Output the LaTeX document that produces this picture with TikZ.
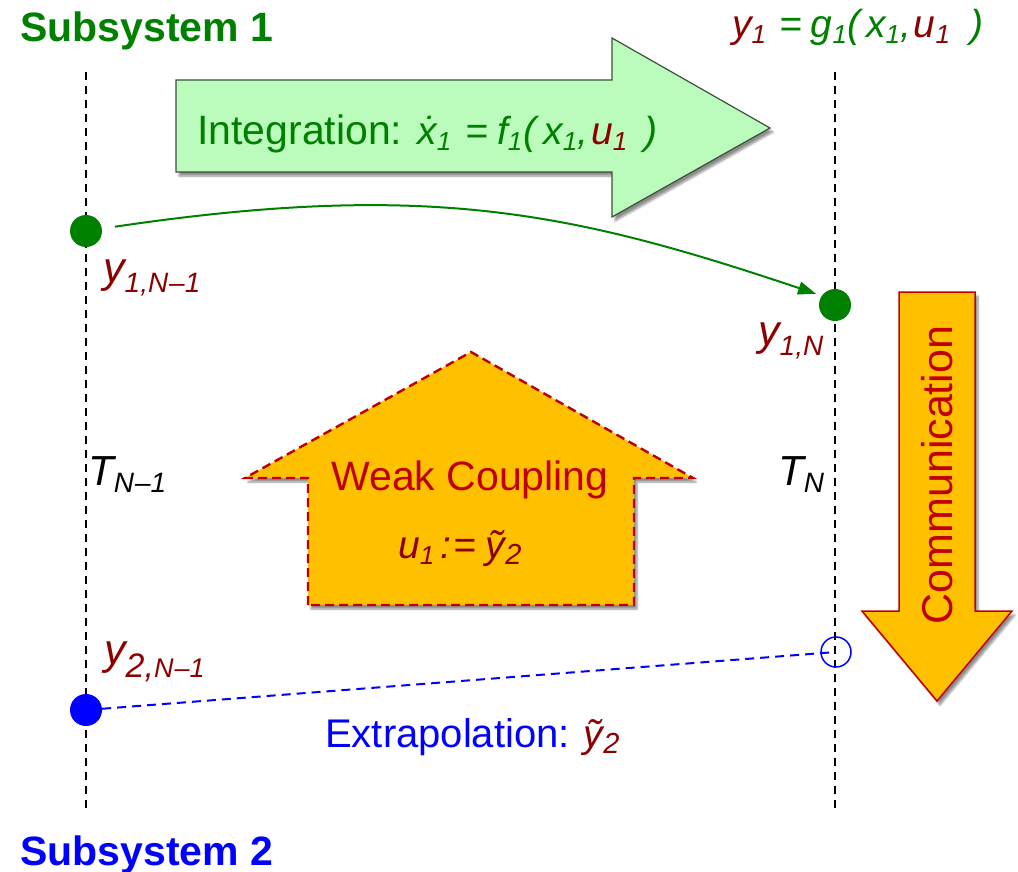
\documentclass[tikz,border=0pt]{standalone}
\usepackage{fontspec}
\setmainfont{Liberation Sans}
\usetikzlibrary{arrows.meta,shadows.blur}
\definecolor{dgreen}{HTML}{008000}
\definecolor{dred}{HTML}{8C0000}
\definecolor{wred}{HTML}{C00000}
\definecolor{lgreen}{HTML}{BBFBBB}
\definecolor{gborder}{HTML}{3C503C}
\definecolor{gold}{HTML}{FFC000}
\definecolor{pblue}{HTML}{0000FF}
\newcommand{\fs}[1]{\fontsize{#1}{#1}\selectfont}
\newcommand{\sbs}[2][26]{\raisebox{-6pt}{\fs{#1}#2}}
\newcommand{\lsb}[3][28]{\raisebox{#2}{\fs{#1}#3}}
\tikzset{
  timeline/.style={black,line width=1.4pt,dash pattern=on 8pt off 6pt},
  dotnode/.style={circle,inner sep=0pt,minimum size=32pt},
  lbl/.style={inner sep=0pt,anchor=base west,text=dred,font=\fs{43}\itshape},
  shad/.style={blur shadow={shadow xshift=3pt,shadow yshift=-4pt,shadow blur steps=6,shadow opacity=45}},
  plain/.style={inner sep=0pt}
}
\begin{document}
\begin{tikzpicture}[x=1pt,y=-1pt]
\useasboundingbox (0,0) rectangle (1018,872);
% time lines
\coordinate (lt) at (86,72);  \coordinate (lb) at (86,810);
\coordinate (rt) at (835,72); \coordinate (rb) at (835,810);
\draw[timeline] (lt) -- (lb);
\draw[timeline] (rt) -- (rb);
% titles
\node[plain,anchor=base west,text=dgreen,font=\fs{41}\bfseries] (s1) at (20,42) {Subsystem 1};
\node[plain,anchor=base west,text=pblue,font=\fs{41}\bfseries] (s2) at (20,865) {Subsystem 2};
% output equation
\node[plain,anchor=base west,font=\fs{39}\itshape] (geq) at (732,38)
  {\textcolor{dred}{y\sbs{1}}\hspace{13pt}\textcolor{dgreen}{=\hspace{9pt}g\sbs{1}(\kern6pt x\sbs{1},}\kern3pt\textcolor{dred}{u\sbs{1}}\kern20pt\textcolor{dgreen}{)}};
% integration arrow
\path[fill=lgreen,draw=gborder,line width=1.2pt,shad]
  (176,80) -- (612,80) -- (612,38) -- (770,128) -- (612,217) -- (612,172) -- (176,172) -- cycle;
\node[plain,anchor=base west,text=dgreen] (integ) at (197,145)
  {{\fs{41}Integration:}\hspace{15pt}{\fs{39}\itshape \.{x}\sbs{1}\hspace{14pt}=\hspace{9pt}f\sbs{1}\kern1pt(\kern7pt x\sbs{1},\kern3pt\textcolor{dred}{u\sbs{1}}\kern17pt)}};
% weak coupling arrow
\path[fill=gold,draw=wred,line width=2.4pt,dash pattern=on 9pt off 5pt,shad]
  (308,605) -- (308,478) -- (245,478) -- (471,352) -- (693,478) -- (634,478) -- (634,605) -- cycle;
\node[plain,anchor=base,text=wred,font=\fs{41}] (weak) at (470,490) {Weak Coupling};
\node[plain,anchor=base west,text=dred,font=\fs{39}\itshape] (ueq) at (398,558)
  {u\sbs{1}\kern6pt:\kern2pt=\kern10pt\~{y}\sbs[29]{2}};
% communication arrow
\path[fill=gold,draw=wred,line width=1.5pt,shad]
  (899,292) -- (975,292) -- (975,611) -- (1012,611) -- (937,701) -- (862,611) -- (899,611) -- cycle;
\node[plain,rotate=90,text=wred,font=\fs{43}] (comm) at (937,475) {Communication};
% dots
\node[dotnode,fill=dgreen] (g1) at (86,231) {};
\node[dotnode,fill=dgreen] (g2) at (835,305) {};
\node[dotnode,fill=pblue] (b1) at (86,710) {};
\node[circle,inner sep=0pt,minimum size=30pt,draw=pblue,line width=1.5pt] (b2) at (836,652) {};
% connectors
\draw[dgreen,line width=2pt,-{Triangle[length=18pt,width=13pt]},shorten <=13pt,shorten >=6pt]
  (g1) .. controls (430,180) and (575,213) .. (g2.145);
\draw[pblue,line width=2pt,dash pattern=on 9pt off 6pt] (b1) -- (b2.center);
% labels
\node[lbl] (l1) at (103,282) {y\lsb{-10pt}{1,N\kern1pt\textendash 1}};
\node[lbl] (l2) at (758,345) {y\lsb{-10pt}{1,N}};
\node[lbl] (l3) at (104,664) {y\lsb[34]{-13pt}{2,}\lsb[27]{-13pt}{N\kern1pt\textendash 1}};
\node[lbl,text=black,font=\fs{42}\itshape] (t1) at (88,485) {T\lsb{-7pt}{N\kern1pt\textendash 1}};
\node[lbl,text=black,font=\fs{42}\itshape] (t2) at (778,485) {T\lsb{-7pt}{N}};
% extrapolation
\node[plain,anchor=base west,text=pblue] (extra) at (325,747)
  {{\fs{40}Extrapolation:}\hspace{14pt}\textcolor{dred}{\fs{39}\itshape\~{y}\sbs[29]{2}}};
\end{tikzpicture}
\end{document}
